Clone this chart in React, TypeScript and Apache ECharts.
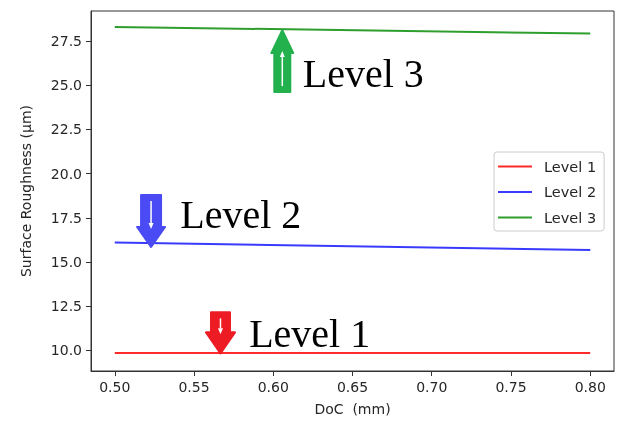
import React, { useEffect, useRef } from "react";
import * as echarts from "echarts";

// ---- data ----
const doc = [0.5, 0.8];
const level1 = [9.85, 9.85];
const level2 = [16.1, 15.68];
const level3 = [28.3, 27.92];
const seriesNames = ["Level 1", "Level 2", "Level 3"];
const xTicks = [0.5, 0.55, 0.6, 0.65, 0.7, 0.75, 0.8];
const yTicks = [10, 12.5, 15, 17.5, 20, 22.5, 25, 27.5];

// annotation anchors in data coordinates (arrow tip + label baseline-left)
const arrowTips = [
  { x: 0.5667, y: 9.83, dir: "down", color: "#ed1c24", w: 29, h: 41, s: 19, hh: 21 },
  { x: 0.5229, y: 15.85, dir: "down", color: "#4b4bf5", w: 28, h: 52, s: 20, hh: 20 },
  { x: 0.6057, y: 28.12, dir: "up", color: "#22b14c", w: 22, h: 62, s: 16, hh: 23 },
];
const labelAnchors = [
  { x: 0.5848, y: 10.28, text: "Level 1" },
  { x: 0.5413, y: 16.98, text: "Level 2" },
  { x: 0.6186, y: 25.0, text: "Level 3" },
];

const lineColors = ["#ff2a2a", "#3a3aff", "#2e9e2e"];

export default function App() {
  const ref = useRef<HTMLDivElement>(null);
  useEffect(() => {
    if (!ref.current) return;
    const chart = echarts.init(ref.current, undefined, { renderer: "svg" });
    const toPairs = (ys: number[]) => doc.map((x, i) => [x, ys[i]]);
    const allData = [level1, level2, level3];
    const axisFont = { fontFamily: "DejaVu Sans", fontSize: 14, color: "#262626" };
    chart.setOption({
      animation: false,
      grid: {
        left: 91,
        right: 4,
        top: 11,
        bottom: 51,
        show: true,
        borderColor: "#333",
        borderWidth: 1,
        backgroundColor: "transparent",
      },
      legend: {
        orient: "vertical",
        left: 494,
        top: 152,
        data: seriesNames,
        icon: "rect",
        itemWidth: 34,
        itemHeight: 2,
        itemGap: 10.5,
        padding: [7, 8, 6, 4],
        borderColor: "#cccccc",
        borderWidth: 1,
        borderRadius: 3,
        backgroundColor: "#fff",
        textStyle: {
          fontFamily: "DejaVu Sans",
          fontSize: 14.5,
          color: "#262626",
          lineHeight: 14,
          padding: [0, 0, 0, 7],
        },
      },
      xAxis: {
        type: "value",
        min: 0.485,
        max: 0.815,
        name: "DoC  (mm)",
        nameLocation: "middle",
        nameGap: 31,
        nameTextStyle: axisFont,
        splitLine: { show: false },
        axisLine: { show: true, onZero: false, lineStyle: { color: "#333", width: 1 } },
        axisTick: { show: true, length: 5, customValues: xTicks, lineStyle: { color: "#333" } },
        axisLabel: {
          ...axisFont,
          margin: 9,
          customValues: xTicks,
          formatter: (v: number) => v.toFixed(2),
        },
      },
      yAxis: {
        type: "value",
        min: 8.83,
        max: 29.2,
        name: "Surface Roughness (µm)",
        nameLocation: "middle",
        nameGap: 58,
        nameTextStyle: axisFont,
        splitLine: { show: false },
        axisLine: { show: true, onZero: false, lineStyle: { color: "#333", width: 1 } },
        axisTick: { show: true, length: 5, customValues: yTicks, lineStyle: { color: "#333" } },
        axisLabel: {
          ...axisFont,
          margin: 9,
          customValues: yTicks,
          formatter: (v: number) => v.toFixed(1),
        },
      },
      series: seriesNames.map((name, i) => ({
        name,
        type: "line",
        data: toPairs(allData[i]),
        symbol: "none",
        lineStyle: { color: lineColors[i], width: 2 },
        itemStyle: { color: lineColors[i] },
      })),
    });

    const graphics: any[] = [];
    arrowTips.forEach((a) => {
      const [tx, ty] = chart.convertToPixel({ gridIndex: 0 }, [a.x, a.y]) as number[];
      const sgn = a.dir === "down" ? -1 : 1; // direction from tip toward tail
      const tail = ty + sgn * a.h;
      const neck = ty + sgn * a.hh;
      const pts = [
        [tx - a.s / 2, tail],
        [tx + a.s / 2, tail],
        [tx + a.s / 2, neck],
        [tx + a.w / 2, neck],
        [tx, ty],
        [tx - a.w / 2, neck],
        [tx - a.s / 2, neck],
      ];
      graphics.push({
        type: "polygon",
        shape: { points: pts },
        style: { fill: a.color, stroke: a.color, lineWidth: 2, lineJoin: "round" },
        z: 10,
      });
      graphics.push({
        type: "line",
        shape: { x1: tx, y1: tail - sgn * 6, x2: tx, y2: neck + sgn * 4 },
        style: { stroke: "#fff", lineWidth: 1.5 },
        z: 11,
      });
      graphics.push({
        type: "polygon",
        shape: {
          points: [
            [tx - 2.5, neck + sgn * 4],
            [tx + 2.5, neck + sgn * 4],
            [tx, neck - sgn * 2],
          ],
        },
        style: { fill: "#fff" },
        z: 11,
      });
    });
    labelAnchors.forEach((l) => {
      const [px, py] = chart.convertToPixel({ gridIndex: 0 }, [l.x, l.y]) as number[];
      graphics.push({
        type: "text",
        x: px,
        y: py - 12,
        style: {
          text: l.text,
          font: '40px "Liberation Serif"',
          fill: "#000",
          verticalAlign: "middle",
          align: "left",
        },
        z: 12,
      });
    });
    chart.setOption({ graphic: graphics });

    return () => chart.dispose();
  }, []);
  return (
    <div
      ref={ref}
      style={{ position: "fixed", left: 0, top: 0, width: 618, height: 422 }}
    />
  );
}
